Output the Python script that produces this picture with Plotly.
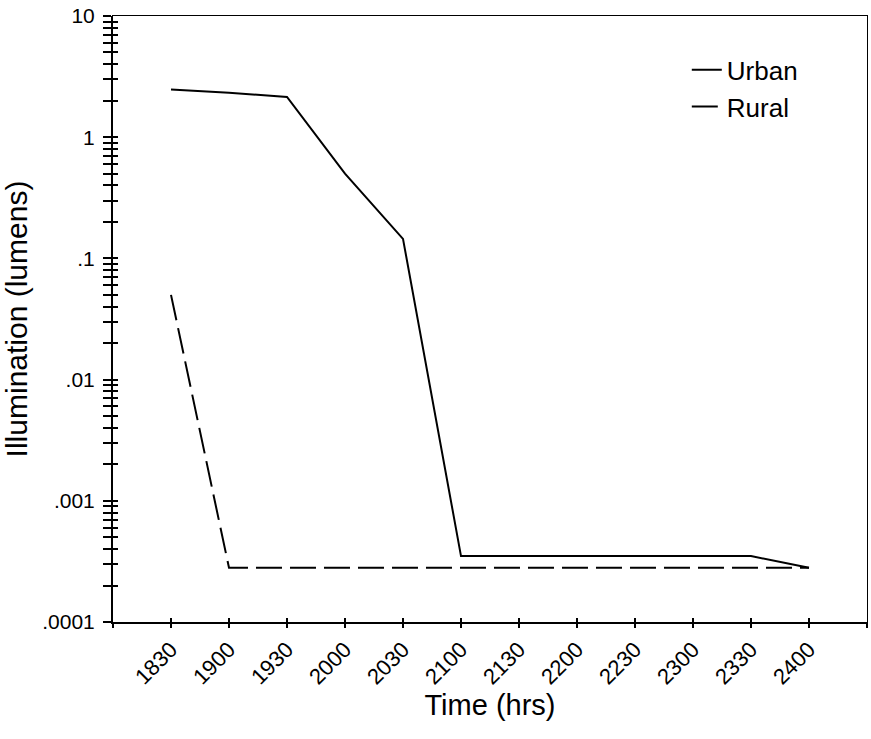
import plotly.graph_objects as go

time_labels = ["1830", "1900", "1930", "2000", "2030", "2100", "2130",
               "2200", "2230", "2300", "2330", "2400"]
urban = [2.48, 2.33, 2.15, 0.50, 0.145, 0.00035, 0.00035, 0.00035,
         0.00035, 0.00035, 0.00035, 0.00028]
rural = [0.05, 0.00028, 0.00028, 0.00028, 0.00028, 0.00028, 0.00028,
         0.00028, 0.00028, 0.00028, 0.00028, 0.00028]
y_major_vals = [0.0001, 0.001, 0.01, 0.1, 1, 10]
y_major_text = [".0001", ".001", ".01", ".1", "1", "10"]

FONT = "Liberation Sans, Arial, Helvetica, sans-serif"
x_idx = list(range(len(time_labels)))

# y tick positions: majors plus 2..9 minors in each decade
y_vals, y_text = [], []
for i, m in enumerate(y_major_vals):
    y_vals.append(m)
    y_text.append(y_major_text[i])
    if i < len(y_major_vals) - 1:
        for k in range(2, 10):
            y_vals.append(m * k)
            y_text.append("")

x_vals = [-1] + x_idx + [len(time_labels)]
x_text = [""] + time_labels + [""]

fig = go.Figure()
fig.add_trace(go.Scatter(x=x_idx, y=urban, mode="lines", name="Urban",
                         line=dict(color="black", width=2)))
fig.add_trace(go.Scatter(x=x_idx, y=rural, mode="lines", name="Rural",
                         xaxis="x2", yaxis="y2",
                         line=dict(color="black", width=2, dash="26px,8px")))

xrange = [-1, len(time_labels)]
yrange = [-4, 1]

fig.update_layout(
    width=871, height=739,
    margin=dict(l=113, r=4, t=16, b=117),
    paper_bgcolor="white", plot_bgcolor="white",
    font=dict(family=FONT, color="black"),
    showlegend=True,
    legend=dict(x=0.761, y=0.950, xanchor="left", yanchor="top",
                font=dict(size=26, family=FONT), bgcolor="rgba(0,0,0,0)",
                tracegroupgap=0),
    xaxis=dict(range=xrange, tickmode="array", tickvals=x_vals, ticktext=x_text,
               ticks="outside", ticklen=4, tickwidth=2, tickcolor="black",
               tickangle=-45, tickfont=dict(size=22, family=FONT),
               showline=True, linecolor="black", linewidth=2,
               showgrid=False, zeroline=False, automargin=False,
               title=dict(text="Time (hrs)", font=dict(size=29, family=FONT),
                          standoff=6)),
    xaxis2=dict(range=xrange, overlaying="x", anchor="y", side="bottom",
                tickmode="array", tickvals=x_vals, ticktext=["" for _ in x_vals],
                ticks="inside", ticklen=4, tickwidth=2, tickcolor="black",
                showline=True, linecolor="black", linewidth=1, mirror=True,
                showgrid=False, zeroline=False, showticklabels=False,
                automargin=False),
    yaxis=dict(type="log", range=yrange, tickmode="array", tickvals=y_vals,
               ticktext=y_text, ticks="outside", ticklen=8, tickwidth=2,
               tickcolor="black", tickfont=dict(size=21, family=FONT),
               ticklabelstandoff=4, automargin=False,
               showline=True, linecolor="black", linewidth=2,
               showgrid=False, zeroline=False,
               title=dict(text="Illumination (lumens)",
                          font=dict(size=30, family=FONT), standoff=7)),
    yaxis2=dict(type="log", range=yrange, overlaying="y", anchor="x", side="left",
                tickmode="array", tickvals=y_vals, ticktext=["" for _ in y_vals],
                ticks="inside", ticklen=5, tickwidth=2, tickcolor="black",
                showline=True, linecolor="black", linewidth=1, mirror=True,
                showgrid=False, zeroline=False, showticklabels=False,
                automargin=False),
)

fig.write_html(
    "out.html",
    config={"displayModeBar": False},
    post_script="document.body.style.margin='0';document.body.style.overflow='hidden';",
)
